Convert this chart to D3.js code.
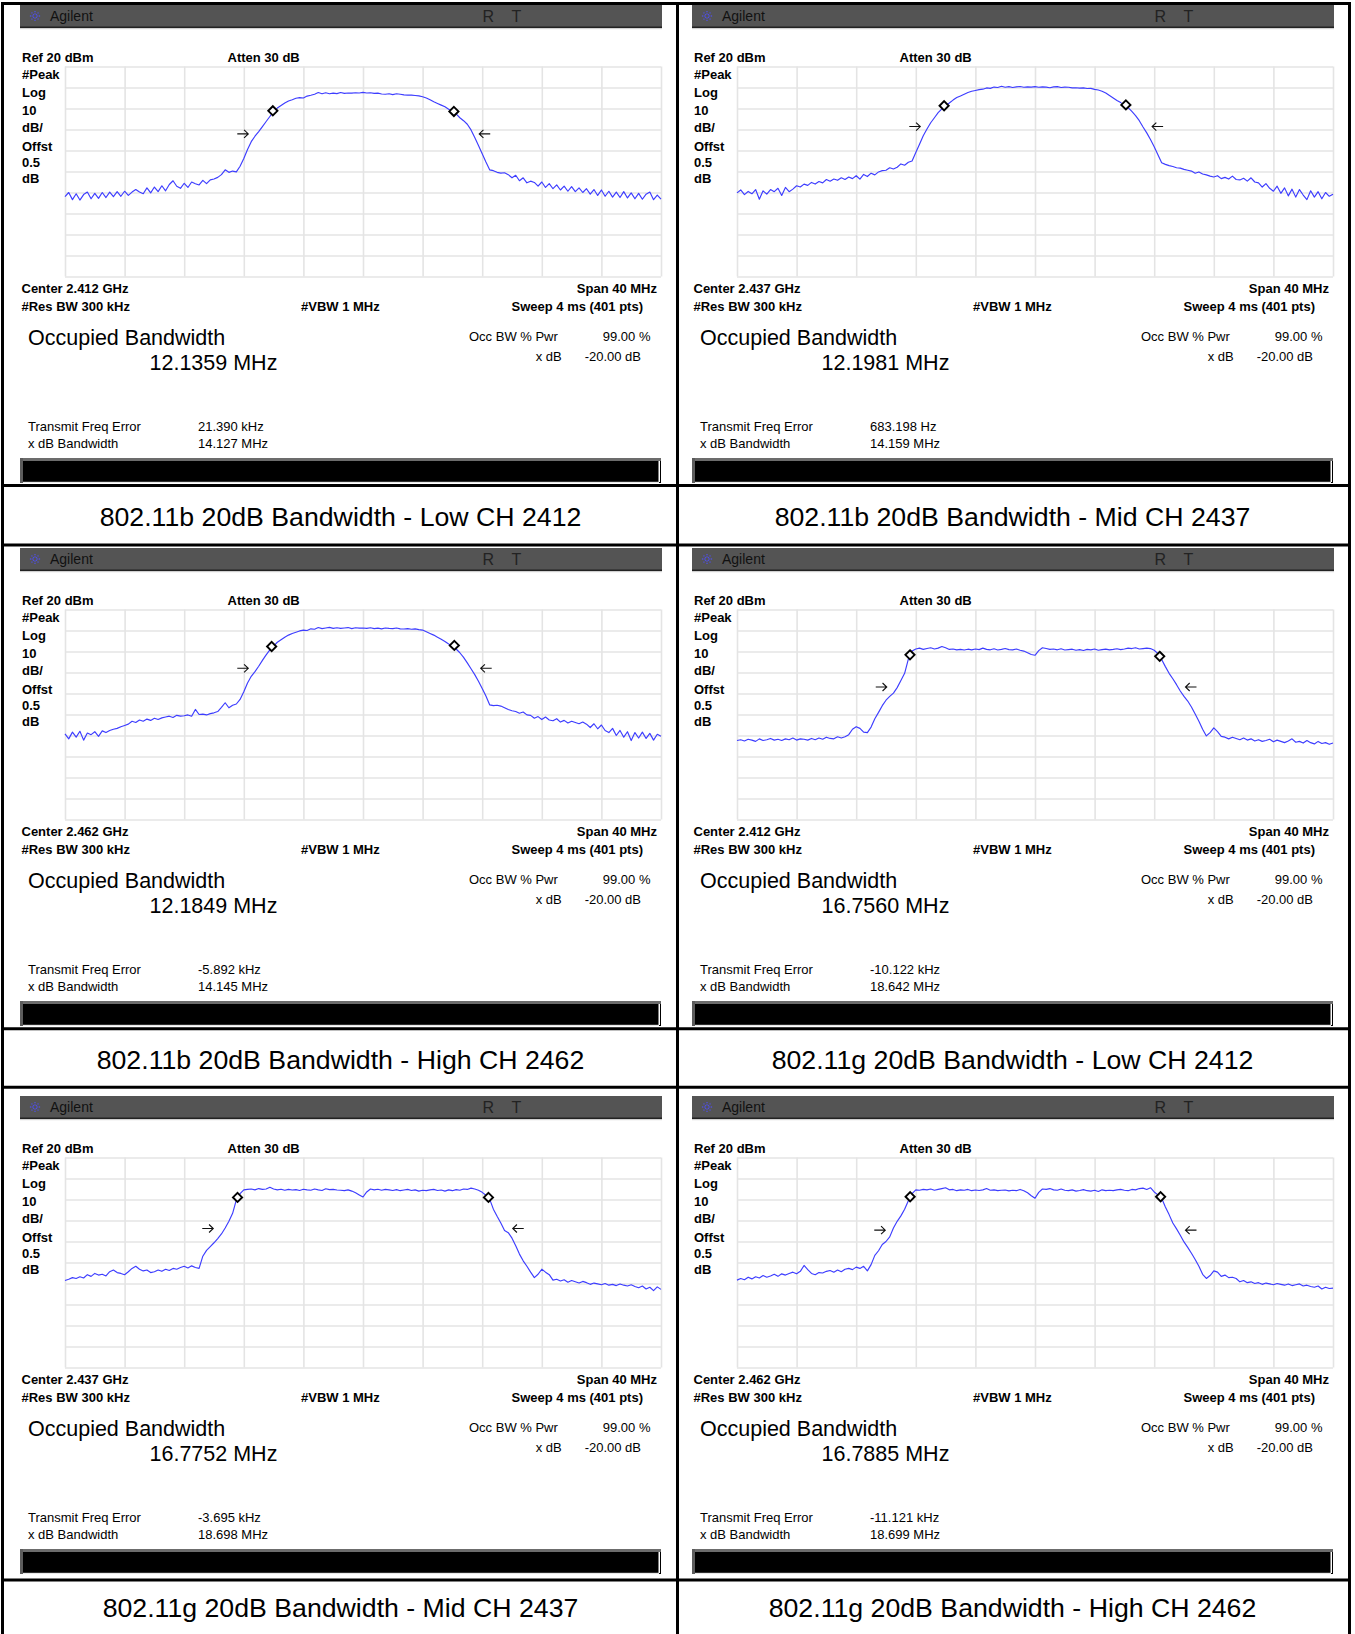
<!DOCTYPE html>
<html><head><meta charset="utf-8">
<script src="https://cdn.jsdelivr.net/npm/d3@7"></script>
<style>
html,body{margin:0;padding:0;background:#fff;}
svg{display:block;}
text{font-family:"Liberation Sans",Arial,sans-serif;}
</style></head><body>
<svg id="c" width="1355" height="1634"></svg>
<script>
// ---------------- DATA ----------------
const panelTitles = [
  "802.11b 20dB Bandwidth - Low CH 2412",
  "802.11b 20dB Bandwidth - Mid CH 2437",
  "802.11b 20dB Bandwidth - High CH 2462",
  "802.11g 20dB Bandwidth - Low CH 2412",
  "802.11g 20dB Bandwidth - Mid CH 2437",
  "802.11g 20dB Bandwidth - High CH 2462"
];
const centerGHz = ["2.412", "2.437", "2.462", "2.412", "2.437", "2.462"];
const occBandwidth = ["12.1359 MHz", "12.1981 MHz", "12.1849 MHz", "16.7560 MHz", "16.7752 MHz", "16.7885 MHz"];
const transmitFreqError = ["21.390 kHz", "683.198 Hz", "-5.892 kHz", "-10.122 kHz", "-3.695 kHz", "-11.121 kHz"];
const xdBBandwidth = ["14.127 MHz", "14.159 MHz", "14.145 MHz", "18.642 MHz", "18.698 MHz", "18.699 MHz"];
const leftLabels = ["#Peak", "Log", "10", "dB/", "Offst", "0.5", "dB"];
const xGridMHz = [-20, -16, -12, -8, -4, 0, 4, 8, 12, 16, 20];
const yGridDbm = [20, 10, 0, -10, -20, -30, -40, -50, -60, -70, -80];

// sweep points: -20 MHz .. +20 MHz, 0.25 MHz apart (161 points)
const sweepMHz = d3.range(161).map(i => -20 + i * 0.25);

const trace11bLow = [
 -42.0,-40.0,-43.4,-40.6,-43.6,-41.0,-39.8,-43.0,-40.4,-42.8,-40.0,-42.4,-39.8,-42.0,-39.6,-41.8,-39.4,-41.4,-39.8,-38.6,
 -39.8,-40.6,-37.8,-40.2,-37.4,-39.6,-36.8,-39.2,-36.2,-34.4,-37.0,-38.0,-35.6,-37.6,-35.0,-35.8,-36.4,-34.2,-35.8,-34.0,
 -33.6,-32.8,-31.5,-29.2,-30.4,-29.8,-30.2,-27.5,-23.8,-19.5,-15.8,-13.2,-11.0,-8.6,-6.2,-3.8,-1.4,0.2,1.4,2.6,
 3.6,4.2,4.9,5.2,5.0,5.9,6.3,6.8,7.6,7.0,7.5,7.0,7.3,7.1,7.6,7.2,7.4,7.3,7.5,7.4,
 7.7,7.4,7.5,7.2,7.3,6.9,6.8,7.0,6.6,7.0,6.8,6.5,6.4,6.4,6.2,6.0,5.6,5.0,4.2,3.2,
 2.4,1.6,0.8,-0.4,-1.3,-2.6,-4.4,-5.8,-7.5,-10.2,-13.8,-17.6,-21.5,-25.5,-29.2,-29.6,-30.4,-30.8,-30.6,-31.5,
 -33.0,-31.8,-34.4,-33.0,-35.4,-34.6,-35.2,-37.0,-35.0,-37.6,-35.8,-38.2,-36.4,-38.8,-37.0,-39.4,-37.2,-39.6,-37.8,-40.0,
 -38.2,-40.8,-38.6,-41.4,-38.8,-41.8,-39.4,-42.2,-39.8,-42.4,-39.6,-42.6,-40.2,-43.0,-40.4,-43.2,-40.8,-39.8,-43.4,-41.2,
 -43.2];
const trace11bMid = [
 -40.2,-38.8,-41.0,-39.5,-40.6,-38.6,-43.2,-39.2,-40.8,-38.6,-39.6,-38.0,-41.4,-37.6,-39.6,-38.4,-36.8,-37.4,-36.0,-36.6,
 -35.2,-36.0,-34.8,-35.4,-33.8,-34.6,-33.6,-34.2,-33.0,-33.8,-32.6,-33.4,-32.0,-33.6,-31.4,-32.4,-30.8,-31.6,-30.2,-29.6,
 -29.4,-28.2,-28.8,-28.0,-26.4,-27.0,-25.6,-25.0,-21.0,-17.0,-13.0,-9.8,-6.8,-4.4,-2.0,-0.2,1.4,2.6,4.0,5.2,
 6.0,6.8,7.6,8.2,8.6,9.0,9.2,9.8,9.6,10.2,10.0,10.6,10.1,10.4,10.0,10.3,10.5,10.1,10.3,10.2,
 10.4,10.1,10.3,10.2,9.9,10.3,10.4,10.0,10.2,10.1,9.8,9.9,9.7,9.8,9.5,9.6,9.1,8.8,8.2,7.4,
 6.2,5.0,3.8,2.8,1.6,0.4,-1.4,-3.4,-5.8,-8.8,-11.6,-14.8,-18.2,-22.0,-25.8,-26.6,-27.2,-27.6,-28.2,-28.4,
 -29.0,-29.4,-29.8,-30.8,-30.2,-31.2,-31.6,-32.2,-32.6,-32.0,-33.4,-32.8,-33.6,-32.2,-33.8,-34.0,-33.2,-34.6,-33.0,-35.0,
 -35.4,-37.4,-35.8,-38.0,-39.4,-37.0,-40.4,-37.8,-41.6,-38.4,-42.2,-38.6,-41.2,-43.4,-39.2,-42.2,-39.6,-43.0,-40.0,-41.8,
 -40.8];
const trace11bHigh = [
 -39.2,-41.6,-38.4,-40.8,-38.0,-42.2,-38.8,-39.6,-38.2,-40.4,-37.8,-38.6,-37.6,-37.0,-36.6,-35.8,-35.2,-34.6,-33.2,-33.8,
 -32.6,-33.2,-32.2,-32.8,-31.8,-32.4,-31.6,-31.2,-30.8,-31.4,-30.4,-30.8,-30.6,-30.2,-30.8,-27.6,-30.0,-29.8,-30.2,-29.6,
 -29.2,-28.6,-26.6,-24.4,-26.8,-25.6,-25.0,-22.8,-19.2,-15.0,-11.8,-9.6,-7.0,-4.2,-1.6,0.8,2.6,4.4,5.6,6.8,
 7.8,8.6,9.2,9.8,10.2,10.0,10.8,10.6,11.4,10.9,11.2,11.5,11.0,11.3,11.0,11.2,11.4,10.9,11.3,11.1,
 11.2,11.0,11.3,10.9,11.1,10.8,11.2,11.0,10.9,11.2,10.8,10.7,10.9,10.6,10.8,10.4,10.2,9.4,8.6,7.8,
 6.8,5.8,4.8,3.6,2.6,1.2,-0.6,-2.8,-5.4,-8.2,-11.0,-14.2,-17.6,-21.2,-25.4,-25.8,-25.6,-26.0,-26.8,-27.6,
 -28.2,-28.6,-29.4,-28.8,-30.2,-30.4,-31.8,-31.0,-32.4,-31.2,-32.6,-33.0,-32.0,-33.6,-32.8,-34.0,-33.2,-33.8,-34.4,-33.6,
 -34.6,-36.2,-34.4,-36.8,-35.0,-37.6,-38.6,-36.6,-40.0,-37.6,-40.8,-38.2,-42.4,-38.6,-41.2,-38.4,-41.4,-39.0,-42.2,-39.4,
 -40.4];
const trace11gLow = [
 -42.4,-42.0,-42.6,-41.8,-42.2,-42.8,-41.6,-42.4,-42.0,-41.4,-42.2,-41.8,-42.4,-41.6,-42.0,-41.2,-42.2,-41.6,-41.8,-42.2,
 -41.4,-42.0,-41.2,-41.8,-40.8,-41.4,-41.6,-40.6,-41.2,-40.6,-39.6,-37.0,-35.8,-36.6,-38.4,-38.6,-36.0,-32.0,-29.0,-25.8,
 -23.2,-21.4,-19.8,-17.2,-13.8,-10.4,-3.6,0.2,1.2,1.6,1.0,1.4,1.8,1.2,1.6,2.4,1.8,1.0,1.2,0.8,
 1.0,0.7,1.1,0.8,1.2,0.9,1.6,1.0,0.8,1.3,0.7,1.0,1.4,0.9,0.8,1.2,0.6,0.2,-0.6,-1.4,
 -1.8,0.4,1.8,1.4,1.0,1.2,0.8,1.3,0.7,0.9,1.1,0.6,0.9,0.5,1.0,0.8,1.2,0.6,0.9,1.1,
 0.8,1.0,1.3,0.9,1.2,1.6,1.4,1.8,1.2,1.4,1.6,1.4,0.6,-1.0,-3.8,-7.2,-10.4,-13.0,-15.8,-18.8,
 -21.4,-23.6,-26.4,-29.8,-33.2,-37.0,-40.2,-38.6,-36.4,-38.2,-40.4,-40.8,-41.6,-40.8,-41.4,-42.0,-41.2,-42.2,-41.6,-42.6,
 -42.0,-42.8,-42.4,-41.8,-43.0,-42.2,-42.8,-43.4,-42.6,-41.6,-43.2,-42.8,-43.6,-42.4,-43.4,-44.0,-42.8,-43.8,-43.4,-44.2,
 -43.6];
const trace11gMid = [
 -38.6,-38.0,-37.2,-37.6,-36.8,-37.4,-35.8,-36.6,-35.2,-36.0,-35.6,-36.4,-34.4,-33.6,-34.8,-35.2,-35.8,-34.4,-32.8,-31.8,
 -33.2,-34.0,-33.6,-34.8,-34.4,-33.6,-34.2,-33.2,-33.8,-32.8,-33.2,-32.4,-31.8,-32.6,-31.6,-32.4,-32.8,-27.0,-24.2,-22.4,
 -20.6,-18.6,-16.4,-13.6,-10.4,-6.6,-0.2,2.8,4.6,4.8,5.0,4.6,5.2,4.8,5.0,5.8,5.0,4.6,4.9,4.4,
 4.8,4.5,4.7,4.3,4.9,4.6,4.4,5.0,4.6,4.3,5.1,4.7,4.8,4.5,4.4,4.2,4.6,4.0,3.2,2.2,
 1.2,3.6,5.0,4.6,4.9,4.4,4.8,4.6,4.3,4.7,4.2,4.5,4.8,4.3,4.6,4.0,4.4,4.2,4.6,4.8,
 4.3,4.5,4.0,4.6,4.2,4.7,4.4,5.0,4.8,5.4,5.0,4.4,3.4,2.0,0.2,-4.6,-8.0,-11.2,-14.8,-15.8,
 -18.4,-22.0,-26.0,-29.2,-31.8,-34.6,-37.2,-35.6,-33.2,-34.6,-35.8,-38.4,-38.0,-38.8,-38.2,-39.4,-38.6,-39.2,-39.8,-39.0,
 -39.6,-40.4,-39.8,-40.2,-40.6,-40.0,-40.8,-40.4,-41.0,-40.2,-40.8,-41.2,-40.6,-41.4,-42.0,-41.2,-42.6,-41.8,-43.4,-41.6,
 -42.8];
const trace11gHigh = [
 -38.4,-37.6,-38.2,-37.0,-37.8,-36.8,-37.4,-36.2,-37.0,-36.4,-35.6,-36.6,-35.4,-36.0,-35.2,-34.6,-35.4,-34.2,-31.4,-33.4,
 -35.2,-35.8,-34.8,-35.0,-34.2,-33.8,-34.6,-33.6,-34.4,-33.2,-32.8,-33.4,-32.2,-32.8,-31.8,-34.0,-31.0,-26.6,-24.4,-21.4,
 -20.0,-17.8,-13.6,-10.4,-7.8,-4.6,-0.6,2.8,4.6,4.4,4.8,4.6,5.0,4.4,4.8,5.2,5.6,4.6,4.8,4.2,
 4.6,4.4,4.8,4.2,4.5,4.3,4.6,5.2,4.4,4.6,4.2,4.4,4.5,4.1,4.4,4.2,4.8,4.2,3.2,1.8,
 0.6,3.4,5.0,4.8,5.2,4.6,4.4,5.0,4.4,4.2,4.6,4.0,4.3,4.7,4.2,4.0,4.4,3.8,4.6,4.2,
 4.4,4.2,4.6,4.8,4.4,4.2,4.8,4.6,5.2,5.4,4.8,5.6,3.6,2.2,0.6,-3.6,-7.2,-11.2,-14.0,-17.0,
 -20.2,-22.8,-25.6,-28.6,-31.8,-35.6,-37.6,-36.2,-34.0,-34.6,-36.6,-36.0,-37.2,-37.0,-37.6,-39.2,-38.6,-39.6,-39.2,-40.0,
 -39.6,-40.4,-39.8,-40.2,-40.6,-40.0,-40.4,-40.8,-40.2,-41.0,-40.6,-40.2,-41.2,-40.8,-41.4,-41.8,-41.2,-42.6,-41.8,-42.4,
 -42.2];

// occupied-bandwidth markers (diamonds): [MHz, dBm] left and right
const obwMarkerLeft  = [[-6.05,-1.1],[-6.1,1.3],[-6.13,2.4],[-8.39,-1.6],[-8.42,1.0],[-8.38,1.3]];
const obwMarkerRight = [[6.1,-1.4],[6.1,1.7],[6.13,2.9],[8.37,-2.3],[8.42,1.0],[8.43,1.3]];
// x dB bandwidth arrows: tip of left arrow, tip of right arrow (MHz), level (dBm)
const arrowTipLeft  = [-7.7, -7.7, -7.7, -9.95, -10.05, -10.05];
const arrowTipRight = [7.8, 7.86, 7.9, 10.1, 10.05, 10.1];
const arrowLevel    = [-12.1, -8.6, -8.0, -16.9, -13.8, -14.6];

const traces = [trace11bLow, trace11bMid, trace11bHigh, trace11gLow, trace11gMid, trace11gHigh];

// ---------------- DRAW ----------------
const svg = d3.select("#c");
svg.append("rect").attr("width",1355).attr("height",1634).attr("fill","#fff");

const X0 = 65, X1 = 661, Y0 = 66.5, Y1 = 276.5;
const x = d3.scaleLinear().domain([-20, 20]).range([X0, X1]);
const y = d3.scaleLinear().domain([20, -80]).range([Y0, Y1]);
const GRID = "#e4e4e4";
const TRACE = "#3d3dff";

const origins = [[0,0],[672,0],[0,543],[672,543],[0,1091],[672,1091]];

function txt(g, px, py, s, o = {}) {
  return g.append("text").attr("x", px).attr("y", py).text(s)
    .attr("font-size", o.size || 13)
    .attr("font-weight", o.bold ? "bold" : "normal")
    .attr("text-anchor", o.anchor || "start")
    .attr("fill", o.fill || "#000");
}

traces.forEach((tr, i) => {
  const [dx, dy] = origins[i];
  const g = svg.append("g").attr("transform", `translate(${dx},${dy})`);

  // header bar
  g.append("rect").attr("x", 20).attr("y", 5).attr("width", 642).attr("height", 22).attr("fill", "#545454");
  g.append("rect").attr("x", 20).attr("y", 26.5).attr("width", 642).attr("height", 1.5).attr("fill", "#222");
  g.append("rect").attr("x", 20).attr("y", 28).attr("width", 642).attr("height", 1.2).attr("fill", "#d0d0d0");
  const ic = g.append("g").attr("transform", "translate(35,16)");
  d3.range(8).forEach(k => {
    const a = k * Math.PI / 4;
    ic.append("line").attr("x1", 1.5 * Math.cos(a)).attr("y1", 1.5 * Math.sin(a))
      .attr("x2", 6 * Math.cos(a)).attr("y2", 6 * Math.sin(a))
      .attr("stroke", "#5050e0").attr("stroke-width", 1.3).attr("stroke-dasharray", "1.2,1");
  });
  txt(g, 50, 20.8, "Agilent", { size: 14, fill: "#111" });
  txt(g, 482.5, 21.7, "R", { size: 16, fill: "#222" });
  txt(g, 511.5, 21.7, "T", { size: 16, fill: "#222" });

  // grid via axes
  const gx = g.append("g").attr("transform", `translate(0,${Y1})`)
    .call(d3.axisBottom(x).tickValues(xGridMHz).tickSize(-(Y1 - Y0)).tickFormat(""));
  const gy = g.append("g").attr("transform", `translate(${X0},0)`)
    .call(d3.axisLeft(y).tickValues(yGridDbm).tickSize(-(X1 - X0)).tickFormat(""));
  [gx, gy].forEach(a => {
    a.select(".domain").remove();
    a.selectAll("line").attr("stroke", GRID).attr("stroke-width", 1.6);
  });

  // trace
  g.append("path").datum(tr)
    .attr("d", d3.line().x((d, k) => x(sweepMHz[k])).y(d => y(d)))
    .attr("fill", "none").attr("stroke", TRACE).attr("stroke-width", 1.15)
    .attr("stroke-linejoin", "round");

  // diamonds
  [obwMarkerLeft[i], obwMarkerRight[i]].forEach(([f, v]) => {
    const cx = x(f), cy = y(v), r = 4.6;
    g.append("path").attr("d", `M${cx},${cy - r}L${cx + r},${cy}L${cx},${cy + r}L${cx - r},${cy}Z`)
      .attr("fill", "#fff").attr("stroke", "#000").attr("stroke-width", 1.9);
  });
  // arrows
  const ay = y(arrowLevel[i]);
  const tl = x(arrowTipLeft[i]), trr = x(arrowTipRight[i]);
  g.append("path").attr("d", `M${tl - 11},${ay}L${tl},${ay}M${tl - 4.2},${ay - 4}L${tl},${ay}L${tl - 4.2},${ay + 4}`)
    .attr("fill", "none").attr("stroke", "#111").attr("stroke-width", 1.1);
  g.append("path").attr("d", `M${trr + 11},${ay}L${trr},${ay}M${trr + 4.2},${ay - 4}L${trr},${ay}L${trr + 4.2},${ay + 4}`)
    .attr("fill", "none").attr("stroke", "#111").attr("stroke-width", 1.1);

  // labels
  txt(g, 22, 62, "Ref 20 dBm", { bold: true });
  txt(g, 227.5, 62, "Atten 30 dB", { bold: true });
  const lb = [79, 97, 114.7, 132.2, 150.5, 167.3, 183];
  leftLabels.forEach((s, k) => txt(g, 22, lb[k], s, { bold: true }));
  txt(g, 21.5, 292.5, `Center ${centerGHz[i]} GHz`, { bold: true });
  txt(g, 657, 292.5, "Span 40 MHz", { bold: true, anchor: "end" });
  txt(g, 21.5, 310.5, "#Res BW 300 kHz", { bold: true });
  txt(g, 301, 310.5, "#VBW 1 MHz", { bold: true });
  txt(g, 643, 310.5, "Sweep 4 ms (401 pts)", { bold: true, anchor: "end" });

  txt(g, 28, 345, "Occupied Bandwidth", { size: 21.5 });
  txt(g, 149.5, 370, occBandwidth[i], { size: 21.5 });
  txt(g, 469, 341.2, "Occ BW % Pwr", { size: 13 });
  txt(g, 650.5, 341.2, "99.00 %", { size: 13, anchor: "end" });
  txt(g, 561.7, 361.2, "x dB", { size: 13, anchor: "end" });
  txt(g, 641, 361.2, "-20.00 dB", { size: 13, anchor: "end" });
  txt(g, 28, 431, "Transmit Freq Error", { size: 13 });
  txt(g, 198, 431, transmitFreqError[i], { size: 13 });
  txt(g, 28, 448, "x dB Bandwidth", { size: 13 });
  txt(g, 198, 448, xdBBandwidth[i], { size: 13 });

  // black status bar
  g.append("rect").attr("x", 20).attr("y", 458).attr("width", 641).attr("height", 25).attr("fill", "#000");
  g.append("rect").attr("x", 20).attr("y", 458).attr("width", 641).attr("height", 3).attr("fill", "#6c6c6c");
  g.append("rect").attr("x", 20).attr("y", 458).attr("width", 3).attr("height", 25).attr("fill", "#5c5c5c");
  g.append("rect").attr("x", 658.5).attr("y", 461).attr("width", 1.5).attr("height", 21).attr("fill", "#fff");
  g.append("rect").attr("x", 23).attr("y", 481.8).attr("width", 636).attr("height", 1.2).attr("fill", "#e8e8e8");

  // title
  txt(svg, 340.5 + dx, 525.5 + dy, panelTitles[i], { size: 26.7, anchor: "middle" });
});

// frame lines
const fr = svg.append("g").attr("stroke", "#000").attr("stroke-width", 3);
[[2.5, 2, 2.5, 1634], [677.5, 2, 677.5, 1634], [1349.5, 2, 1349.5, 1634]].forEach(l =>
  fr.append("line").attr("x1", l[0]).attr("y1", l[1]).attr("x2", l[2]).attr("y2", l[3]));
[3.5, 485.6, 545, 1028.8, 1087.3, 1580].forEach(v =>
  fr.append("line").attr("x1", 1).attr("y1", v).attr("x2", 1351).attr("y2", v));
</script>
</body></html>
